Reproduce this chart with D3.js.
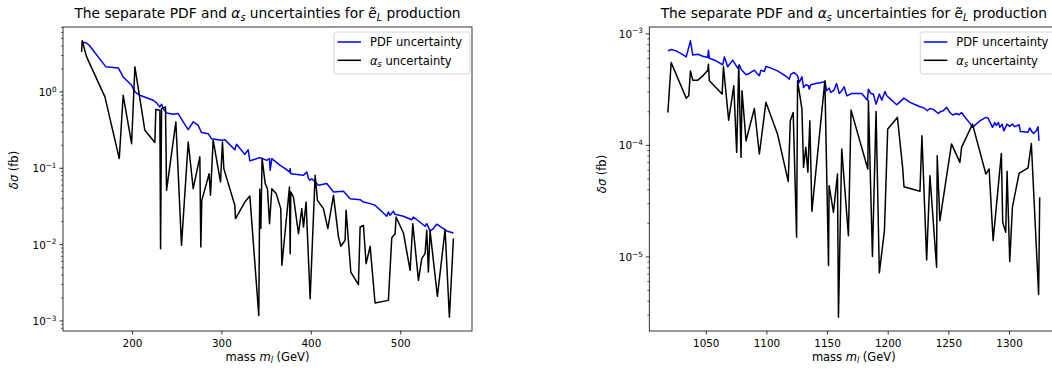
<!DOCTYPE html>
<html><head><meta charset="utf-8">
<script src="https://cdn.jsdelivr.net/npm/d3@7"></script>
<style>body{margin:0;background:#fff;overflow:hidden} text{font-family:"DejaVu Sans",sans-serif;fill:#000}</style>
</head><body><svg id="c" width="1052" height="374"></svg>
<script>
// ---- data ----
const leftPdfMass = [143.7,149.3,152.2,170.9,184.7,190.2,199.6,203.3,208.9,223.8,227.5,231.2,233.1,234.9,238.7,246.1,251.7,257.3,262.9,268.5,274.0,277.8,285.2,288.9,300.1,303.8,315.0,316.9,326.2,329.9,331.8,343.4,350.8,353.8,354.5,356.4,365.7,371.3,376.1,376.9,377.6,391.8,393.6,395.5,397.4,399.2,401.1,408.5,417.8,425.3,436.5,443.9,455.1,458.8,466.3,471.8,484.9,486.7,488.6,492.3,494.2,503.5,512.8,514.7,527.7,529.6,533.3,537.0,540.7,548.2,551.9,559.4];
const leftPdfUnc = [4.52,4.38,4.09,2.13,2.06,1.57,1.22,1.0,0.904,0.778,0.718,0.636,0.689,0.605,0.531,0.510,0.520,0.405,0.321,0.405,0.366,0.293,0.284,0.244,0.233,0.237,0.175,0.206,0.152,0.175,0.125,0.138,0.127,0.134,0.094,0.134,0.109,0.099,0.0895,0.099,0.085,0.081,0.085,0.0895,0.073,0.0695,0.073,0.0598,0.063,0.0489,0.0499,0.040,0.0388,0.0361,0.0344,0.0327,0.0235,0.0267,0.0242,0.0273,0.0249,0.0235,0.0212,0.0230,0.0174,0.0188,0.0151,0.0162,0.0185,0.0162,0.0151,0.0142];
const leftAlphaMass = [143.7,144.4,149.3,169.8,185.8,190.2,199.6,203.3,214.4,225.6,226.7,231.2,232.0,233.1,237.5,238.7,249.1,255.4,262.9,268.5,275.9,277.0,278.1,286.3,287.8,290.8,299.0,301.2,302.7,315.0,315.8,326.2,331.8,341.8,342.9,344.1,345.5,349.0,351.5,353.8,356.4,361.2,366.4,367.6,376.1,376.9,377.6,380.6,386.2,389.9,391.8,394.7,399.2,404.8,407.4,414.1,419.0,425.3,430.9,433.5,438.3,439.4,444.7,453.2,455.1,458.8,461.8,466.3,471.8,486.7,490.5,494.2,495.3,503.5,511.0,514.0,520.3,524.0,527.7,529.6,531.4,533.3,541.5,550.1,554.9,559.4];
const leftAlphaUnc = [3.34,4.67,2.88,0.861,0.134,0.904,0.210,2.13,0.315,0.217,0.587,0.576,0.00885,0.605,0.636,0.0514,0.405,0.00978,0.221,0.054,0.141,0.0093,0.038,0.085,0.0442,0.233,0.0662,0.221,0.0989,0.0327,0.0219,0.0361,0.0433,0.00118,0.053,0.0162,0.134,0.063,0.054,0.0188,0.054,0.0466,0.0296,0.00535,0.0569,0.0076,0.0489,0.042,0.0139,0.0296,0.017,0.0361,0.00196,0.081,0.038,0.0296,0.0162,0.0442,0.0126,0.0095,0.0114,0.0281,0.00437,0.00298,0.017,0.0179,0.00562,0.0095,0.00172,0.00186,0.0123,0.0139,0.023,0.0142,0.0046,0.0188,0.0034,0.00655,0.0076,0.0154,0.00437,0.0151,0.0021,0.0158,0.00112,0.012];

const rightPdfMass = [1018.8,1021.5,1025.6,1029.7,1033.9,1037.4,1039.3,1043.4,1047.6,1051.7,1052.2,1053.0,1058.5,1064.0,1065.4,1068.1,1072.2,1076.3,1077.7,1079.1,1083.2,1085.9,1090.1,1092.8,1094.2,1095.5,1098.3,1099.6,1103.8,1109.2,1113.4,1117.5,1118.8,1120.2,1122.9,1125.7,1127.1,1129.3,1130.6,1132.5,1134.7,1135.3,1136.6,1140.8,1148.4,1149.5,1151.7,1153.1,1155.8,1157.8,1160.0,1162.1,1164.1,1166.3,1170.4,1178.6,1181.4,1183.3,1184.1,1186.0,1188.2,1190.4,1193.1,1195.1,1197.8,1199.2,1201.4,1207.4,1208.8,1213.4,1218.4,1226.6,1228.8,1230.7,1232.6,1234.8,1237.6,1241.7,1243.0,1245.8,1248.5,1251.3,1253.5,1256.7,1258.9,1260.9,1262.8,1268.3,1269.9,1276.0,1280.9,1282.8,1286.4,1288.3,1289.6,1291.3,1292.4,1294.3,1295.7,1298.4,1300.6,1302.8,1304.7,1308.3,1309.4,1315.7,1317.0,1319.2,1320.3,1322.5,1323.9,1324.7];
const rightPdfUnc = [7.03e-4,7.23e-4,7.03e-4,6.65e-4,6.21e-4,8.65e-4,6.47e-4,6.56e-4,6.30e-4,6.12e-4,7.13e-4,6.04e-4,5.73e-4,5.27e-4,6.21e-4,5.06e-4,5.81e-4,4.92e-4,5.27e-4,4.82e-4,4.29e-4,4.41e-4,4.72e-4,4.35e-4,4.20e-4,4.72e-4,4.59e-4,5.09e-4,4.92e-4,4.65e-4,4.35e-4,4.06e-4,3.92e-4,4.35e-4,4.50e-4,4.20e-4,3.66e-4,4.11e-4,3.30e-4,3.49e-4,3.42e-4,3.19e-4,3.49e-4,3.59e-4,3.72e-4,3.08e-4,3.26e-4,2.98e-4,3.13e-4,3.59e-4,2.92e-4,3.08e-4,3.35e-4,2.78e-4,2.92e-4,2.92e-4,2.69e-4,2.54e-4,3.19e-4,2.92e-4,2.88e-4,2.34e-4,2.88e-4,2.54e-4,3.04e-4,2.78e-4,2.65e-4,2.31e-4,2.38e-4,2.65e-4,2.43e-4,2.22e-4,2.19e-4,2.13e-4,2.04e-4,2.14e-4,2.10e-4,1.93e-4,1.99e-4,2.04e-4,2.19e-4,1.97e-4,1.87e-4,1.93e-4,1.88e-4,1.97e-4,1.84e-4,1.55e-4,1.45e-4,1.66e-4,1.78e-4,1.75e-4,1.45e-4,1.60e-4,1.51e-4,1.60e-4,1.45e-4,1.55e-4,1.35e-4,1.55e-4,1.48e-4,1.55e-4,1.47e-4,1.53e-4,1.33e-4,1.31e-4,1.43e-4,1.31e-4,1.28e-4,1.35e-4,1.47e-4,1.10e-4];
const rightAlphaMass = [1018.8,1021.5,1033.9,1036.0,1037.4,1039.3,1043.4,1047.6,1051.7,1052.2,1053.0,1063.5,1064.6,1068.9,1073.1,1075.5,1077.2,1079.1,1079.9,1083.2,1090.1,1094.2,1099.6,1109.2,1118.0,1119.7,1122.1,1124.9,1125.7,1129.3,1130.6,1132.5,1134.2,1135.8,1137.5,1148.2,1151.2,1151.7,1155.3,1158.6,1159.4,1162.1,1167.6,1169.8,1183.6,1184.1,1187.4,1190.4,1193.1,1197.3,1200.0,1208.0,1212.3,1213.4,1226.6,1228.2,1232.1,1234.8,1240.3,1240.8,1243.0,1252.6,1259.5,1260.9,1269.9,1280.9,1283.6,1286.9,1293.7,1294.8,1297.3,1298.4,1300.6,1302.8,1308.3,1315.7,1318.4,1324.4,1325.3];
const rightAlphaUnc = [1.97e-4,5.53e-4,2.65e-4,2.78e-4,4.65e-4,3.84e-4,3.84e-4,4.20e-4,4.72e-4,5.34e-4,3.79e-4,2.88e-4,5.06e-4,1.68e-4,3.42e-4,8.65e-5,5.16e-4,7.80e-5,3.08e-4,1.10e-4,2.14e-4,8.36e-5,2.43e-4,1.26e-4,4.75e-5,1.66e-4,1.97e-4,1.50e-5,3.79e-4,2.11e-4,6.35e-5,9.59e-5,5.73e-5,1.66e-4,2.56e-5,3.79e-4,8.36e-6,4.35e-5,2.51e-5,5.53e-5,2.88e-6,9.27e-5,1.55e-5,2.07e-4,6.14e-5,2.51e-4,1.01e-5,2.01e-4,7.19e-6,1.72e-5,1.40e-4,1.78e-4,6.35e-5,4.26e-5,3.87e-5,1.22e-4,9.40e-6,5.35e-5,8.07e-6,8.07e-5,2.11e-5,1.03e-4,7.03e-5,9.59e-5,1.55e-4,5.53e-5,6.14e-5,1.40e-5,8.47e-5,2.04e-5,1.66e-5,5.85e-5,9.08e-6,2.79e-5,5.61e-5,6.27e-5,1.04e-4,4.60e-6,3.42e-5];

const xTicksLeft = [200,300,400,500];
const xTicksRight = [1050,1100,1150,1200,1250,1300];
const seriesLabels = ["PDF uncertainty", "α_s uncertainty"];
const seriesColors = ["#0000ff", "#000000"];

// ---- drawing ----
const svg = d3.select('#c');
const FS = 10.4;   // tick labels
const LF = 11.5;   // legend / axis labels
const TF = 13.8;   // title

function addRich(sel, parts, fs) {
  let shift = 0;
  parts.forEach(p => {
    const target = p.sub ? fs*0.22 : (p.sup ? -fs*0.42 : 0);
    const ts = sel.append('tspan').text(p.t);
    if (target !== shift) { ts.attr('dy', target - shift); shift = target; }
    if (p.sub || p.sup) ts.attr('font-size', fs*0.7);
    if (p.i) ts.attr('font-style', 'italic');
  });
}

function panel(o) {
  const g = svg.append('g');
  const xs = o.pdfMass.concat(o.aMass), ys = o.pdf.concat(o.a);
  const [x0, x1] = d3.extent(xs); const px = (x1 - x0) * 0.05;
  const ly0 = Math.log10(d3.min(ys)), ly1 = Math.log10(d3.max(ys)); const py = (ly1 - ly0) * 0.05;
  const x = d3.scaleLinear().domain([x0 - px, x1 + px]).range([o.left, o.right]);
  const y = d3.scaleLog().domain([Math.pow(10, ly0 - py), Math.pow(10, ly1 + py)]).range([o.bottom, o.top]);

  const line = d3.line().x(d => x(d[0])).y(d => y(d[1]));
  g.append('path').datum(d3.zip(o.pdfMass, o.pdf)).attr('d', line)
    .attr('fill', 'none').attr('stroke', seriesColors[0]).attr('stroke-width', 1.5).attr('stroke-linejoin', 'round');
  g.append('path').datum(d3.zip(o.aMass, o.a)).attr('d', line)
    .attr('fill', 'none').attr('stroke', seriesColors[1]).attr('stroke-width', 1.5).attr('stroke-linejoin', 'round');

  // x axis
  const xa = g.append('g').attr('transform', `translate(0,${o.bottom})`)
    .call(d3.axisBottom(x).tickValues(o.xTicks).tickSize(3.5).tickPadding(5.5).tickFormat(d3.format('d')));
  xa.select('.domain').remove();
  xa.selectAll('line').attr('stroke', '#000').attr('stroke-width', 0.8);
  xa.selectAll('text').attr('font-size', FS).attr('font-family', 'DejaVu Sans').attr('fill', '#000');

  // y axis: major + minor
  const e0 = Math.ceil(Math.log10(y.domain()[0])), e1 = Math.floor(Math.log10(y.domain()[1]));
  const majors = d3.range(e0, e1 + 1);
  const minors = [];
  for (let e = e0 - 1; e <= e1; e++) for (let m = 2; m <= 9; m++) {
    const v = m * Math.pow(10, e);
    if (v > y.domain()[0] && v < y.domain()[1]) minors.push(v);
  }
  const ya = g.append('g');
  ya.selectAll('line.mi').data(minors).join('line').attr('x1', o.left - 2).attr('x2', o.left)
    .attr('y1', d => y(d)).attr('y2', d => y(d)).attr('stroke', '#000').attr('stroke-width', 0.6);
  ya.selectAll('line.ma').data(majors).join('line').attr('x1', o.left - 3.5).attr('x2', o.left)
    .attr('y1', d => y(Math.pow(10, d))).attr('y2', d => y(Math.pow(10, d))).attr('stroke', '#000').attr('stroke-width', 0.8);
  majors.forEach(e => {
    const t = ya.append('text').attr('x', o.left - 6.5).attr('y', y(Math.pow(10, e)) + 4)
      .attr('text-anchor', 'end').attr('font-size', FS);
    addRich(t, [{t: '10'}, {t: (e < 0 ? '\u2212' : '') + Math.abs(e), sup: true}], FS);
  });

  // spines
  g.append('rect').attr('x', o.left).attr('y', o.top).attr('width', o.right - o.left).attr('height', o.bottom - o.top)
    .attr('fill', 'none').attr('stroke', '#000').attr('stroke-width', 0.8);

  // title
  const cx = (o.left + o.right) / 2;
  const tt = g.append('text').attr('x', cx).attr('y', 18).attr('text-anchor', 'middle').attr('font-size', TF);
  addRich(tt, [{t: 'The separate PDF and '}, {t: 'α', i: true}, {t: 's', i: true, sub: true},
    {t: ' uncertainties for '}, {t: 'ẽ', i: true}, {t: 'L', i: true, sub: true}, {t: ' production'}], TF);

  // x label
  const xl = g.append('text').attr('x', cx).attr('y', 360.5).attr('text-anchor', 'middle').attr('font-size', LF);
  addRich(xl, [{t: 'mass '}, {t: 'm', i: true}, {t: 'l', i: true, sub: true}, {t: ' (GeV)'}], LF);

  // y label
  const yl = g.append('text').attr('transform', `translate(${o.ylx},${o.yly}) rotate(-90)`)
    .attr('text-anchor', 'middle').attr('font-size', LF);
  addRich(yl, [{t: 'δσ', i: true}, {t: ' (fb)'}], LF);

  // legend
  const lg = g.append('g').attr('transform', `translate(${o.right - 138},${o.top + 5})`);
  lg.append('rect').attr('x', 0).attr('y', 0).attr('width', 136).attr('height', 42).attr('rx', 2.5)
    .attr('fill', '#fff').attr('fill-opacity', 0.8).attr('stroke', '#cccccc').attr('stroke-width', 0.8);
  seriesLabels.forEach((lab, i) => {
    const yy = 10 + i * 18.3;
    lg.append('line').attr('x1', 3.5).attr('x2', 27).attr('y1', yy).attr('y2', yy)
      .attr('stroke', seriesColors[i]).attr('stroke-width', 1.5);
    const t = lg.append('text').attr('x', 36).attr('y', yy + 4.2).attr('font-size', LF);
    if (i === 0) t.text(lab);
    else addRich(t, [{t: 'α', i: true}, {t: 's', i: true, sub: true}, {t: ' uncertainty'}], LF);
  });
}

panel({left: 63, right: 472, top: 27, bottom: 331, pdfMass: leftPdfMass, pdf: leftPdfUnc,
  aMass: leftAlphaMass, a: leftAlphaUnc, xTicks: xTicksLeft, ylx: 18, yly: 170});
panel({left: 649.3, right: 1058.3, top: 27, bottom: 331, pdfMass: rightPdfMass, pdf: rightPdfUnc,
  aMass: rightAlphaMass, a: rightAlphaUnc, xTicks: xTicksRight, ylx: 605.5, yly: 174});
</script></body></html>
